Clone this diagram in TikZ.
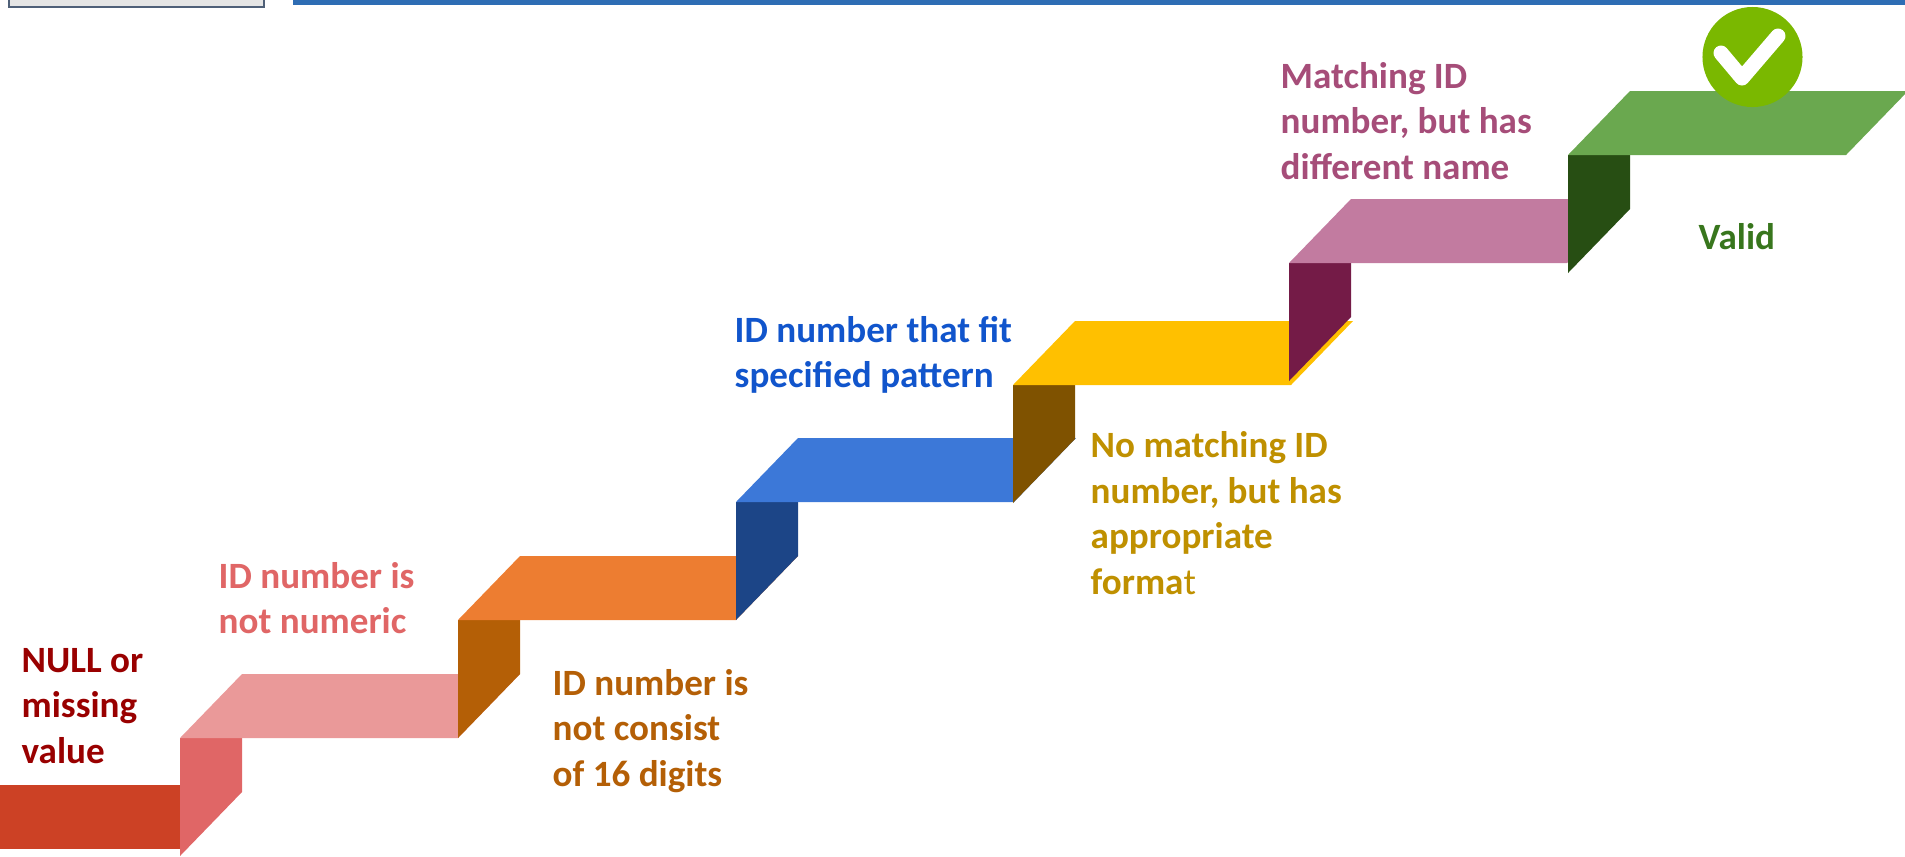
\documentclass[tikz,border=0pt]{standalone}
\usepackage{xcolor}
\usepackage{fontspec}
\setmainfont{Carlito}

\definecolor{barred}{HTML}{CC4125}
\definecolor{sidepink}{HTML}{E06666}
\definecolor{toppink}{HTML}{EA9999}
\definecolor{sideorange}{HTML}{B45F06}
\definecolor{toporange}{HTML}{ED7D31}
\definecolor{sidenavy}{HTML}{1C4587}
\definecolor{topblue}{HTML}{3C78D8}
\definecolor{sidebrown}{HTML}{7F5200}
\definecolor{topyellow}{HTML}{FFC000}
\definecolor{sidepurple}{HTML}{741B47}
\definecolor{topmauve}{HTML}{C27BA0}
\definecolor{sidegreen}{HTML}{274E13}
\definecolor{topgreen}{HTML}{6AA84F}
\definecolor{textred}{HTML}{990000}
\definecolor{textpink}{HTML}{E06666}
\definecolor{textorange}{HTML}{B45F06}
\definecolor{textblue}{HTML}{1155CC}
\definecolor{textgold}{HTML}{BF9000}
\definecolor{textmauve}{HTML}{A64D79}
\definecolor{textgreen}{HTML}{38761D}
\definecolor{badgegreen}{HTML}{7AB800}
\definecolor{framegray}{HTML}{4F6078}
\definecolor{barblue}{HTML}{2E6DB4}

\tikzset{steplabel/.style={anchor=west,align=left,inner sep=0pt,font=\fontsize{10.55}{12.95}\selectfont\bfseries}}

\begin{document}
\begin{tikzpicture}[x=0.01cm,y=-0.01cm]
    \clip (0,0) rectangle (1905,856);
    \draw[framegray,fill=black!10,line width=0.2mm] (9,-10) rectangle (264,7);
    \fill[barblue] (293,0) rectangle (1905,5);
    \fill[barred] (0,785) rectangle (180,849);
    % steps from left to right
    \foreach \x/\y/\sidecol/\topcol in {180/738/sidepink/toppink,458/620/sideorange/toporange,736/502/sidenavy/topblue,1013/385/sidebrown/topyellow,1289/263/sidepurple/topmauve,1568/155/sidegreen/topgreen}{
        \fill[\sidecol] (\x,\y) -- ++(62,0) -- ++(0,54) -- ++(-62,64) -- cycle;
        \fill[\topcol] (\x,\y) -- ++(62,-64) -- ++(278,0) -- ++(-62,64) -- cycle;
    }
    \node[steplabel,text=textred] (nullvalue) at (21,706) {NULL or\\missing\\value};
    \node[steplabel,text=textpink] (notnumeric) at (218,598) {ID number is\\not numeric};
    \node[steplabel,text=textorange] (notdigits) at (552,731) {ID number is\\not consist\\of 16 digits};
    \node[steplabel,text=textblue] (fitpattern) at (734,355) {ID number that fit\\specified pattern};
    \node[steplabel,text=textgold] (nomatch) at (1090,513) {No matching ID\\number, but has\\appropriate\\forma{\mdseries t}};
    \node[steplabel,text=textmauve] (diffname) at (1280,121) {Matching ID\\number, but has\\different name};
    \node[steplabel,text=textgreen] (valid) at (1698,237) {Valid};
    \node[circle,fill=badgegreen,minimum size=1cm,inner sep=0pt] (badge) at (1752.5,57) {};
    \draw[white,line width=1.5mm,line cap=round,line join=round] (1721,53) -- (1742,78) -- (1778,36);
\end{tikzpicture}
\end{document}
